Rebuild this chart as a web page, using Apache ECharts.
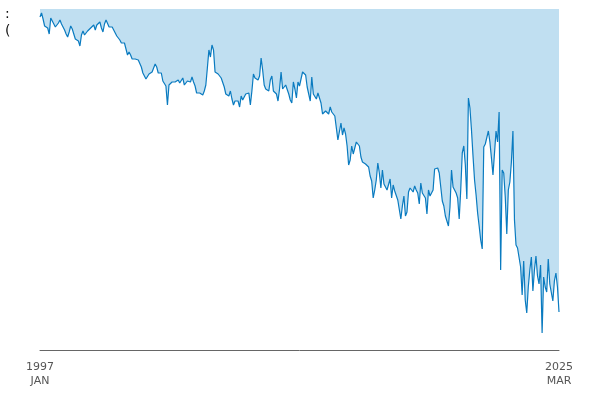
<!DOCTYPE html>
<html lang="en">
<head>
  <meta charset="UTF-8">
  <title>Monthly series 1997-2025</title>
  <style>
    html, body { margin: 0; padding: 0; background: #fff; }
  </style>
</head>
<body>
<div id="main" style="width:600px; height:400px;"></div>
<script type="text/javascript" src="https://fastly.jsdelivr.net/npm/echarts@6/dist/echarts.min.js"></script>
<script>
  // monthly values (Jan 1997 .. Mar 2025)
  var v1997 = [333,337,331,324,324,322,316,332,333,326,323,324,327,330,326,323,320,316,313,318,324,321,320,311,310,309,304,315,319,315,317,319,321,322,322,325,320,325,325,328,322,318,326,330,330,323,322,323,322,317,314,312,310];
  var v2001 = [307,306,307,305,295,298,295,291,290,291,291,290,289,283,277,279,271,270,276,275,278,279,286,283,277,276,277,269,267,264,245,265,265,268,266,268,268,270,267,268,272,265,264,269,271,268,273,268,264,257,258,257,259,255,259];
  var v2006 = [265,282,300,293,305,300,278,276,276,275,272,270,263,256,258,254,259,251,245,249,249,249,243,254,250,253,256,257,257,245,259,276,272,272,270,274,292,280,265,261,262,259,270,274,259,260,256,249,261,278,261,262,265,264,256,250];
  var v2010 = [247,268,261,252,268,264,271,278,277,275,263,261,249,273,256,254,251,257,255,247,236,237,239,240,236,243,238,236,234,232,210,212,227,215,222,216,204,185,190,204,196,197,208,210,204,193,188,190];
  var v2014 = [186,187,183,174,169,152,160,170,187,177,162,180,166,165,160,159,171,152,165,159,158,150,151,131,144,154,134,138,158,162,160,158,164,160,157,146,167,157,156,152,136,160,154,153,160,181,181,182,177];
  var v2018 = [163,149,144,134,132,124,143,180,163,163,157,152,131,160,197,204,185,151,252,242,220,194,170,155,137,124,110,101,203,206,205,219,208,192,175,177,219,208,238];
  var v2022 = [80,180,177,153,116,160,168,188,219,130,105,102,100,83,55,89,50,37,63,80,93,59,80,94,74,66,85,17,73,63,58,91,66,65,49,69,77,63,38];

  var values = [].concat(v1997, v2001, v2006, v2010, v2014, v2018, v2022);

  var monthNames = ['JAN','FEB','MAR','APR','MAY','JUN','JUL','AUG','SEP','OCT','NOV','DEC'];
  var months = [];
  for (var y = 1997, m = 0; months.length < values.length; m++) {
    if (m === 12) { m = 0; y++; }
    months.push(y + '\n' + monthNames[m]);
  }
  // only the first and last month get a tick label
  var tickLabels = [months[0], months[months.length - 1]];

  var myChart = echarts.init(document.getElementById('main'));

  var option = {
    animation: false,
    title: {
      text: ':\n(',
      left: 0,
      top: 1,
      textStyle: { fontSize: 14, fontWeight: 'normal', color: '#111', lineHeight: 17, fontFamily: 'DejaVu Sans' }
    },
    grid: { left: 40, right: 41, top: 9, bottom: 50 },
    xAxis: {
      type: 'category',
      data: months,
      boundaryGap: false,
      axisLine: { lineStyle: { color: '#666', width: 1 } },
      axisTick: { show: false },
      axisLabel: {
        interval: function (idx, val) { return tickLabels.indexOf(val) >= 0; },
        showMinLabel: true,
        showMaxLabel: true,
        color: '#555',
        fontSize: 11,
        lineHeight: 14,
        margin: 10,
        fontFamily: 'DejaVu Sans'
      }
    },
    yAxis: {
      type: 'value',
      min: 0,
      max: 341,
      show: false
    },
    series: [{
      type: 'line',
      data: values,
      symbol: 'none',
      lineStyle: { color: '#0a7bc0', width: 1.2 },
      areaStyle: { color: '#c0dff1', opacity: 1, origin: 'end' }
    }]
  };

  myChart.setOption(option);
</script>
</body>
</html>
